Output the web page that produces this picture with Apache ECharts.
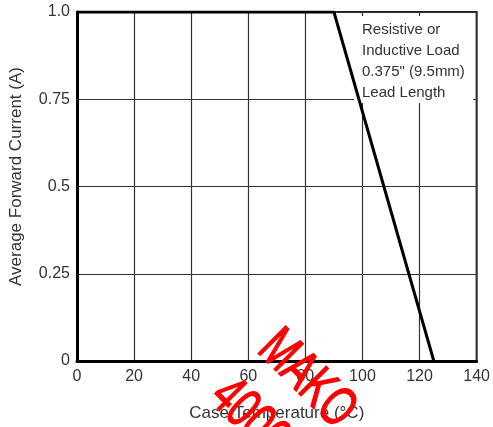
<!DOCTYPE html>
<html>
<head>
<meta charset="utf-8">
<script src="https://cdn.jsdelivr.net/npm/echarts@6/dist/echarts.min.js"></script>
<style>
  html, body { margin: 0; padding: 0; background: #fff; }
  #chart { width: 493px; height: 427px; }
</style>
</head>
<body>
<div id="chart"></div>
<script>
// derating curve: case temperature (°C) vs average forward current (A)
var temps = [0, 90, 125];
var current = [1.0, 1.0, 0];
var yTickLabels = ['0', '0.25', '0.5', '0.75', '1.0'];
var noteLines = ['Resistive or', 'Inductive Load', '0.375" (9.5mm)', 'Lead Length'];
var stampLines = ['MAKO', '4000'];

var font = 'Liberation Sans, Arial, sans-serif';
var chart = echarts.init(document.getElementById('chart'));

var points = temps.map(function (t, i) { return [t, current[i]]; });

var option = {
  animation: false,
  grid: {
    left: 77, right: 14, top: 12, bottom: 66,
    show: true, borderColor: '#222', borderWidth: 2
  },
  xAxis: {
    type: 'value', min: 0, max: 140, interval: 20,
    name: 'Case Temperature (°C)',
    nameLocation: 'middle', nameGap: 44,
    nameTextStyle: { fontFamily: font, fontSize: 17, color: '#333' },
    axisLine: { lineStyle: { color: '#000', width: 3 } },
    axisTick: { show: false },
    axisLabel: { fontFamily: font, fontSize: 16, color: '#333', margin: 8 },
    splitLine: { lineStyle: { color: '#333', width: 1.2 } }
  },
  yAxis: {
    type: 'value', min: 0, max: 1, interval: 0.25,
    name: 'Average Forward Current (A)',
    nameLocation: 'middle', nameGap: 52,
    nameTextStyle: { fontFamily: font, fontSize: 17, color: '#333', padding: [0, 0, 0, 20] },
    axisLine: { show: true, lineStyle: { color: '#000', width: 3 } },
    axisTick: { show: false },
    axisLabel: {
      fontFamily: font, fontSize: 16, color: '#333', margin: 7,
      formatter: function (v) { return yTickLabels[Math.round(v * 4)]; }
    },
    splitLine: { lineStyle: { color: '#333', width: 1.2 } }
  },
  series: [{
    type: 'line',
    data: points,
    symbol: 'none',
    z: 5,
    lineStyle: { color: '#000', width: 3 }
  }],
  graphic: [
    // white note box hiding the grid behind it
    {
      type: 'rect', z: 1,
      shape: { x: 354, y: 16, width: 119, height: 87 },
      style: { fill: '#fff' }
    },
    {
      type: 'text', z: 10, x: 362, y: 20,
      style: {
        text: noteLines.join('\n'),
        font: '15px ' + font,
        lineHeight: 20.7,
        fill: '#333'
      }
    },
    // red watermark
    {
      type: 'text', z: 100, x: 267, y: 340,
      rotation: -Math.PI / 4, scaleX: 0.68,
      style: {
        text: stampLines[0], font: '56px ' + font,
        fill: '#ff0000', stroke: '#ff0000', lineWidth: 1.5,
        textVerticalAlign: 'middle', verticalAlign: 'middle'
      }
    },
    {
      type: 'text', z: 100, x: 219, y: 388,
      rotation: -Math.PI / 4, scaleX: 0.68,
      style: {
        text: stampLines[1], font: '56px ' + font,
        fill: '#ff0000', stroke: '#ff0000', lineWidth: 1.5,
        textVerticalAlign: 'middle', verticalAlign: 'middle'
      }
    }
  ]
};

chart.setOption(option);
</script>
</body>
</html>
